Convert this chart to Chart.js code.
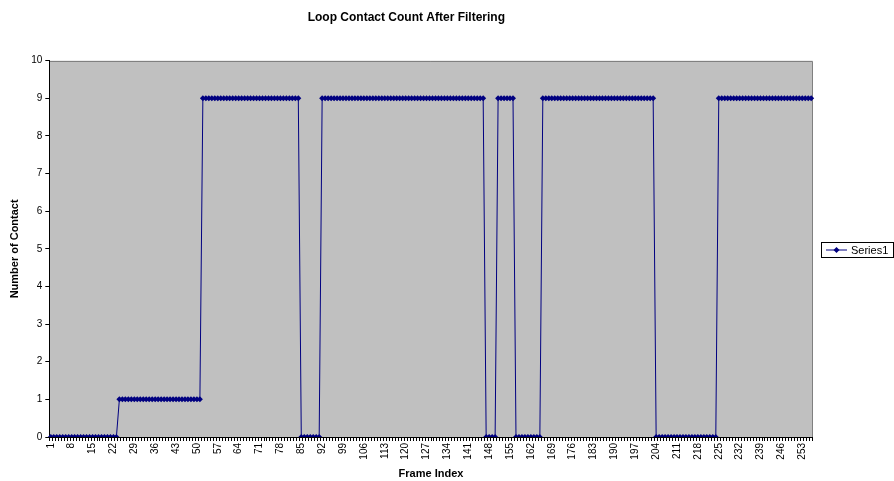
<!DOCTYPE html>
<html>
<head>
<meta charset="utf-8">
<script src="https://cdn.jsdelivr.net/npm/chart.js@4/dist/chart.umd.min.js"></script>
<style>
  html, body { margin: 0; padding: 0; background: #ffffff; }
  #wrap { width: 894px; height: 481px; position: relative; }
</style>
</head>
<body>
<div id="wrap"><canvas id="c" width="894" height="481"></canvas></div>
<script>
// ---- data ----
const chartTitle = "Loop Contact Count After Filtering";
const xTitle = "Frame Index";
const yTitle = "Number of Contact";
const seriesName = "Series1";

// frame indices 1..256
const categories = [];
for (let i = 1; i <= 256; i++) categories.push(String(i));

// tick labels shown on the x axis (every 7th frame)
const shownTickLabels = ["1","8","15","22","29","36","43","50","57","64","71","78","85","92","99","106","113","120","127","134","141","148","155","162","169","176","183","190","197","204","211","218","225","232","239","246","253"];

const contactCounts = [
  // 1-23
  0,0,0,0,0,0,0,0,0,0, 0,0,0,0,0,0,0,0,0,0, 0,0,0,
  // 24-51
  1,1,1,1,1,1,1,1,1,1, 1,1,1,1,1,1,1,1,1,1, 1,1,1,1,1,1,1,1,
  // 52-84
  9,9,9,9,9,9,9,9,9,9, 9,9,9,9,9,9,9,9,9,9, 9,9,9,9,9,9,9,9,9,9, 9,9,9,
  // 85-91
  0,0,0,0,0,0,0,
  // 92-146
  9,9,9,9,9,9,9,9,9,9, 9,9,9,9,9,9,9,9,9,9, 9,9,9,9,9,9,9,9,9,9, 9,9,9,9,9,9,9,9,9,9, 9,9,9,9,9,9,9,9,9,9, 9,9,9,9,9,
  // 147-150
  0,0,0,0,
  // 151-156
  9,9,9,9,9,9,
  // 157-165
  0,0,0,0,0,0,0,0,0,
  // 166-203
  9,9,9,9,9,9,9,9,9,9, 9,9,9,9,9,9,9,9,9,9, 9,9,9,9,9,9,9,9,9,9, 9,9,9,9,9,9,9,9,
  // 204-224
  0,0,0,0,0,0,0,0,0,0, 0,0,0,0,0,0,0,0,0,0, 0,
  // 225-256
  9,9,9,9,9,9,9,9,9,9, 9,9,9,9,9,9,9,9,9,9, 9,9,9,9,9,9,9,9,9,9, 9,9
];

const yMin = 0, yMax = 10, yStep = 1;

// ---- styling ----
const NAVY = "#000080";
const FONT = "'Liberation Sans', Arial, sans-serif";

const plotBg = {
  id: "plotBg",
  beforeDraw(chart) {
    const {ctx, chartArea: a} = chart;
    ctx.save();
    ctx.fillStyle = "#C0C0C0";
    ctx.fillRect(a.left, a.top, a.right - a.left, a.bottom - a.top);
    ctx.strokeStyle = "#808080";
    ctx.lineWidth = 1;
    ctx.beginPath();
    ctx.moveTo(a.left, Math.round(a.top) + 0.5);
    ctx.lineTo(Math.round(a.right) - 0.5, Math.round(a.top) + 0.5);
    ctx.lineTo(Math.round(a.right) - 0.5, a.bottom);
    ctx.stroke();
    ctx.restore();
  }
};

const customLegend = {
  id: "customLegend",
  afterDraw(chart) {
    const ctx = chart.ctx;
    const ds = chart.data.datasets[0];
    ctx.save();
    const bx = 821.5, by = 242.5, bw = 72, bh = 15;
    ctx.strokeStyle = "#000000";
    ctx.lineWidth = 1;
    ctx.strokeRect(bx, by, bw, bh);
    const cy = by + bh / 2;
    ctx.strokeStyle = ds.borderColor;
    ctx.lineWidth = 1;
    ctx.beginPath();
    ctx.moveTo(826, cy);
    ctx.lineTo(847, cy);
    ctx.stroke();
    ctx.fillStyle = ds.pointBackgroundColor;
    ctx.beginPath();
    ctx.moveTo(836.5, cy - 3);
    ctx.lineTo(839.5, cy);
    ctx.lineTo(836.5, cy + 3);
    ctx.lineTo(833.5, cy);
    ctx.closePath();
    ctx.fill();
    ctx.fillStyle = "#000000";
    ctx.font = "11px " + FONT;
    ctx.textBaseline = "middle";
    ctx.textAlign = "left";
    ctx.fillText(ds.label, 851, cy + 0.5);
    ctx.restore();
  }
};

new Chart(document.getElementById("c"), {
  type: "line",
  data: {
    labels: categories,
    datasets: [{
      label: seriesName,
      data: contactCounts,
      borderColor: NAVY,
      backgroundColor: NAVY,
      borderWidth: 1,
      pointStyle: "rectRot",
      pointRadius: 3,
      pointBackgroundColor: NAVY,
      pointBorderColor: NAVY,
      pointBorderWidth: 0,
      tension: 0,
      fill: false
    }]
  },
  options: {
    responsive: false,
    animation: false,
    devicePixelRatio: 1,
    layout: { padding: { left: 0, right: 81.3, top: 0, bottom: 0 } },
    plugins: {
      legend: { display: false },
      tooltip: { enabled: false },
      title: {
        display: true,
        text: chartTitle,
        color: "#000000",
        font: { family: FONT, size: 12, weight: "bold", lineHeight: 1.2 },
        padding: { top: 10, bottom: 36.3 }
      }
    },
    scales: {
      x: {
        type: "category",
        offset: true,
        afterFit(scale) { scale.height = 44; },
        grid: {
          display: true,
          offset: true,
          drawOnChartArea: false,
          drawTicks: true,
          tickLength: 4,
          color: "#000000",
          lineWidth: 1
        },
        border: { display: true, color: "#000000", width: 1 },
        ticks: {
          autoSkip: false,
          minRotation: 90,
          maxRotation: 90,
          padding: 2,
          color: "#000000",
          font: { family: FONT, size: 10 },
          callback(value, index) {
            const lab = categories[index];
            return shownTickLabels.includes(lab) ? lab : "";
          }
        },
        title: {
          display: true,
          text: xTitle,
          color: "#000000",
          font: { family: FONT, size: 11, weight: "bold", lineHeight: 1.2 },
          padding: { top: -2, bottom: 0 }
        }
      },
      y: {
        min: yMin,
        max: yMax,
        afterFit(scale) { scale.width = 49.3; },
        grid: {
          display: true,
          drawOnChartArea: false,
          drawTicks: true,
          tickLength: 4,
          color: "#000000",
          lineWidth: 1
        },
        border: { display: true, color: "#000000", width: 1 },
        ticks: {
          stepSize: yStep,
          padding: 3,
          color: "#000000",
          font: { family: FONT, size: 10 }
        },
        title: {
          display: true,
          text: yTitle,
          color: "#000000",
          font: { family: FONT, size: 11, weight: "bold", lineHeight: 1.2 },
          padding: { top: 8, bottom: 0 }
        }
      }
    }
  },
  plugins: [plotBg, customLegend]
});
</script>
</body>
</html>
